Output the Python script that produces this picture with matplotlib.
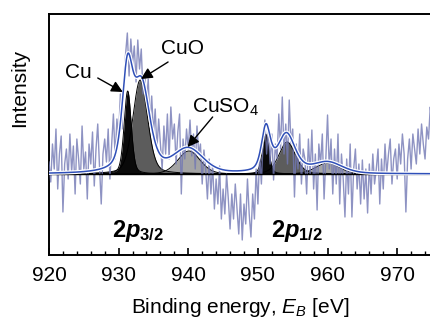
import numpy as np
import matplotlib
matplotlib.use("Agg")
import matplotlib.pyplot as plt
import matplotlib.patheffects as pe
from matplotlib.ticker import MultipleLocator

plt.rcParams['font.family'] = ['Liberation Sans', 'DejaVu Sans']
plt.rcParams['mathtext.fontset'] = 'custom'
plt.rcParams['mathtext.rm'] = 'Liberation Sans'
plt.rcParams['mathtext.it'] = 'Liberation Sans:italic'
plt.rcParams['mathtext.bf'] = 'Liberation Sans:bold'
plt.rcParams['mathtext.bfit'] = 'Liberation Sans:italic:bold'

# measured spectrum, 920 .. 975 eV in 0.25 eV steps (arb. units, baseline = 0)
e_start, e_step = 920.0, 0.25
counts = [
    12, -8, 30, 5,      45, -15, 20, 38,    -38, 10, 25, -5,    40, 2, 28, -20,
    35, 15, -10, 48,    5, 22, -25, 30,     10, 42, -12, 25,    50, 8, -30, 20,
    35, 12, 45, -5,     30, 60, 15, 55,     38, 80, 45, 95,     120, 141, 98, 135,
    110, 128, 92, 134,  105, 125, 80, 100,  72, 95, 50, 78,     40, 65, 25, 55,
    30, 5, 48, 20,      60, 15, 67, 35,     50, 10, 42, 60,     -20, 35, 15, 45,
    25, 54, 18, 40,     5, 48, 20, 30,      -10, 24, 5, -25,    15, -20, 10, -35,
    -5, -30, 8, -45,    -15, -40, 0, -25,   -55, -20, -45, -10, -35, -60, -20, -66,
    -30, -50, -5, -40,  -63, -20, -45, 5,   -30, 20, -10, 35,   54, 20, 45, 10,
    40, -6, 30, 15,     60, 25, 77, 20,     50, 10, 74, 30,     45, -23, 30, 5,
    40, -10, 25, 15,    -20, 35, 0, 44,     -15, 20, -36, 30,   10, 40, -25, 15,
    59, 5, 35, -20,     25, -10, 40, -30,   20, -5, -43, 15,    -20, 30, -43, 5,
    25, -15, 10, -30,   14, -25, 5, -39,    10, -20, 20, -10,   5, 25, -30, 15,
    -15, 30, 0, 20,     35, -10, 15, 25,    -5, 30, 10, 40,     20, -38, 15, 35,
    5, 40, 25, 10,      45, 20, 50, 30,     15, 47, 35, 67,     50,
]

# fitted components: centre [eV], height, FWHM [eV], Lorentz fraction
comp_names   = ['Cu 2p3/2', 'CuO 2p3/2', 'CuSO4 2p3/2', 'Cu 2p1/2', 'CuO 2p1/2', 'CuSO4 2p1/2']
comp_center  = [931.3, 933.1, 940.1, 951.1, 954.2, 960.0]
comp_height  = [83, 94, 23, 40, 32, 11]
comp_fwhm    = [1.2, 2.5, 3.8, 1.1, 2.8, 4.0]
comp_eta     = [0.3, 0.3, 0.2, 0.3, 0.3, 0.2]
comp_color   = ['#0a0a0a', '#5c5c5c', '#a4a4a4', '#0a0a0a', '#5c5c5c', '#a4a4a4']

# envelope (total fit)
env_center = [931.25, 933.3, 940.0, 951.15, 954.1, 960.0]
env_height = [95, 87, 24, 44, 39, 11]
env_fwhm   = [1.8, 2.8, 5.0, 1.5, 3.0, 5.0]
env_eta    = [0.5, 0.5, 0.3, 0.5, 0.5, 0.3]


def pvoigt(x, c, h, w, eta):
    g = np.exp(-4 * np.log(2) * ((x - c) / w) ** 2)
    l = 1 / (1 + ((x - c) / (w / 2)) ** 2)
    return h * ((1 - eta) * g + eta * l)


energy = e_start + e_step * np.arange(len(counts))
xs = np.linspace(920, 976, 1200)

fig = plt.figure(figsize=(4.31, 3.20), dpi=100)
ax = fig.add_axes([49 / 431, 65 / 320, 383 / 431, 241 / 320])

# components, drawn back to front
for i in [2, 5, 1, 4, 0, 3]:
    y = pvoigt(xs, comp_center[i], comp_height[i], comp_fwhm[i], comp_eta[i])
    ax.fill_between(xs, 0, y, color=comp_color[i], lw=0, zorder=2)
    ax.plot(xs, y, color='k', lw=0.7, zorder=2.5)

ax.plot(energy, counts, color='#7278b4', lw=1.0, alpha=0.8, zorder=3)
ax.axhline(0, color='k', lw=1.0, zorder=3.5)

env = sum(pvoigt(xs, c, h, w, e) for c, h, w, e in zip(env_center, env_height, env_fwhm, env_eta))
ax.plot(xs, env, color='#2f4fb8', lw=1.1, zorder=4,
        path_effects=[pe.Stroke(linewidth=2.8, foreground='white'), pe.Normal()])

ax.set_xlim(920, 975)
ax.set_ylim(-81, 160)
ax.xaxis.set_major_locator(MultipleLocator(10))
ax.xaxis.set_minor_locator(MultipleLocator(2))
ax.tick_params(axis='x', which='both', direction='in', top=False, labelsize=15, pad=8)
ax.tick_params(axis='x', which='major', length=5, width=1.2)
ax.tick_params(axis='x', which='minor', length=3, width=1.0)
ax.set_yticks([])
for s in ax.spines.values():
    s.set_linewidth(1.4)
ax.set_xlabel('Binding energy, $E_B$ [eV]', fontsize=15, labelpad=8)
fig.text(20 / 431, 1 - 88 / 320, 'Intensity', rotation=90, fontsize=15,
         ha='center', va='center')

arrow = dict(arrowstyle='-|>', color='k', lw=1.0, mutation_scale=17, shrinkA=0, shrinkB=0)
ax.annotate('', xy=(930.6, 82), xytext=(927.0, 96), arrowprops=arrow, zorder=6)
ax.annotate('', xy=(933.2, 95), xytext=(937.1, 112), arrowprops=arrow, zorder=6)
ax.annotate('', xy=(939.9, 27), xytext=(943.5, 57), arrowprops=arrow, zorder=6)
ax.text(924.2, 101, 'Cu', fontsize=15, ha='center', va='center', zorder=6)
ax.text(939.1, 126, 'CuO', fontsize=15, ha='center', va='center', zorder=6)
ax.text(945.3, 67, 'CuSO$_4$', fontsize=15, ha='center', va='center', zorder=6)

ax.text(932.8, 174 - 231, r'$\mathbf{2}\mathbfit{p}_{\mathbf{3/2}}$', fontsize=17,
        ha='center', va='center')
ax.text(955.7, 174 - 231, r'$\mathbf{2}\mathbfit{p}_{\mathbf{1/2}}$', fontsize=17,
        ha='center', va='center')

fig.savefig('out.png', dpi=100)
